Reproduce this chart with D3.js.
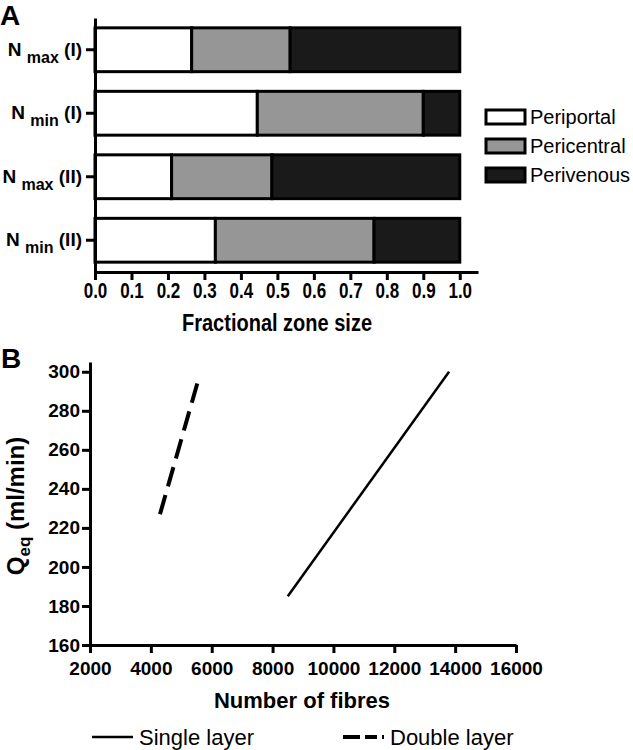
<!DOCTYPE html>
<html>
<head>
<meta charset="utf-8">
<script src="https://cdn.jsdelivr.net/npm/d3@7"></script>
<style>
  body { margin: 0; background: #fff; }
  svg { font-family: "Liberation Sans", Arial, sans-serif; }
  .axis path, .axis line { stroke: #000; stroke-width: 3; }
  .axis text { fill: #000; font-weight: bold; }
</style>
</head>
<body>
<div id="chart"></div>
<script>
// panel A
const categories = ["Nmax (I)", "Nmin (I)", "Nmax (II)", "Nmin (II)"]
const zones = ["Periportal", "Pericentral", "Perivenous"]
const periportal = [0.265, 0.445, 0.21, 0.33]
const pericentral = [0.27, 0.455, 0.275, 0.435]
const perivenous = [0.465, 0.10, 0.515, 0.235]
const zoneTicks = [0.0, 0.1, 0.2, 0.3, 0.4, 0.5, 0.6, 0.7, 0.8, 0.9, 1.0]

// panel B
const fibreTicks = [2000, 4000, 6000, 8000, 10000, 12000, 14000, 16000]
const qTicks = [160, 180, 200, 220, 240, 260, 280, 300]
const singleLayer = [[8500, 185], [13800, 300]]
const doubleLayer = [[4300, 227], [5580, 297]]

const zoneColors = ["#ffffff", "#969696", "#1a1a1a"]

const svg = d3.select("#chart").append("svg")
    .attr("width", 633)
    .attr("height", 750)

// ---------- A ----------
const table = categories.map((c, i) => ({
    cat: c,
    Periportal: periportal[i],
    Pericentral: pericentral[i],
    Perivenous: perivenous[i]
}))
const stacked = d3.stack().keys(zones)(table)

const xA = d3.scaleLinear().domain([0, 1.05]).range([95, 478])
const yA = d3.scaleBand().domain(categories).range([18, 272])
    .paddingInner(0.31).paddingOuter(0.155)

svg.append("text")
    .attr("x", 0).attr("y", 25)
    .style("font-size", "28px").style("font-weight", "bold")
    .text("A")

svg.selectAll(".zone")
    .data(stacked)
    .join("g")
    .attr("class", "zone")
    .attr("fill", (d, i) => zoneColors[i])
    .selectAll("rect")
    .data(d => d)
    .join("rect")
    .attr("x", d => xA(d[0]))
    .attr("y", d => yA(d.data.cat))
    .attr("width", d => xA(d[1]) - xA(d[0]))
    .attr("height", yA.bandwidth())
    .attr("stroke", "#000")
    .attr("stroke-width", 3)

// tick labels in A are drawn tall and narrow
svg.append("g")
    .attr("class", "axis")
    .attr("transform", "translate(0,272)")
    .call(d3.axisBottom(xA).tickValues(zoneTicks).tickFormat(d3.format(".1f"))
        .tickSize(8).tickSizeOuter(0))
    .selectAll("text")
    .style("font-size", "17px")
    .attr("y", 0).attr("dy", 0)
    .attr("transform", "translate(0,298) scale(1,1.25)".replace("298", 26))

const yAxisA = svg.append("g")
    .attr("class", "axis")
    .attr("transform", "translate(95,0)")
    .call(d3.axisLeft(yA).tickSize(9).tickSizeOuter(0).tickFormat(""))

yAxisA.selectAll(".tick text").remove()
yAxisA.selectAll(".tick").append("text")
    .attr("x", -13)
    .attr("y", 6)
    .attr("text-anchor", "end")
    .style("font-size", "19px")
    .each(function (d) {
        const t = d3.select(this)
        const sp = d.indexOf(" ")
        t.append("tspan").text(d.slice(0, 1) + " ")
        t.append("tspan").attr("dy", 7).style("font-size", "16px").text(d.slice(1, sp))
        t.append("tspan").attr("dy", -7).text(" " + d.slice(sp + 1))
    })

svg.append("text")
    .attr("transform", "translate(277,331) scale(1,1.15)")
    .attr("text-anchor", "middle")
    .style("font-size", "20px").style("font-weight", "bold")
    .text("Fractional zone size")

const legA = svg.append("g").selectAll("g")
    .data(zones)
    .join("g")
    .attr("transform", (d, i) => `translate(486,${110 + i * 29})`)
legA.append("rect")
    .attr("width", 39).attr("height", 14)
    .attr("fill", (d, i) => zoneColors[i])
    .attr("stroke", "#000").attr("stroke-width", 3)
legA.append("text")
    .attr("x", 44).attr("y", 14)
    .style("font-size", "20px")
    .text(d => d)

// ---------- B ----------
const xB = d3.scaleLinear().domain([2000, 16000]).range([90, 516])
const yB = d3.scaleLinear().domain([160, 305]).range([645, 362])

svg.append("text")
    .attr("x", 1).attr("y", 368)
    .style("font-size", "28px").style("font-weight", "bold")
    .text("B")

svg.append("g")
    .attr("class", "axis")
    .attr("transform", "translate(0,645)")
    .call(d3.axisBottom(xB).tickValues(fibreTicks).tickFormat(d3.format("d"))
        .tickSize(8).tickSizeOuter(0).tickPadding(9))
    .selectAll("text").style("font-size", "19px")

svg.append("g")
    .attr("class", "axis")
    .attr("transform", "translate(90,0)")
    .call(d3.axisLeft(yB).tickValues(qTicks).tickSize(8).tickSizeOuter(0).tickPadding(2))
    .selectAll("text").style("font-size", "19px")

const line = d3.line().x(d => xB(d[0])).y(d => yB(d[1]))

svg.append("path")
    .datum(singleLayer)
    .attr("d", line)
    .attr("fill", "none")
    .attr("stroke", "#000")
    .attr("stroke-width", 2.5)

svg.append("path")
    .datum(doubleLayer)
    .attr("d", line)
    .attr("fill", "none")
    .attr("stroke", "#000")
    .attr("stroke-width", 4)
    .attr("stroke-dasharray", "20,9")

svg.append("text")
    .attr("x", 302).attr("y", 708)
    .attr("text-anchor", "middle")
    .style("font-size", "22px").style("font-weight", "bold")
    .text("Number of fibres")

const qTitle = svg.append("text")
    .attr("transform", "translate(24,506) rotate(-90)")
    .attr("text-anchor", "middle")
    .style("font-size", "24px").style("font-weight", "bold")
qTitle.append("tspan").text("Q")
qTitle.append("tspan").attr("dy", 6).style("font-size", "17px").text("eq")
qTitle.append("tspan").attr("dy", -6).text(" (ml/min)")

// legend B
svg.append("line")
    .attr("x1", 92).attr("x2", 133).attr("y1", 737).attr("y2", 737)
    .attr("stroke", "#000").attr("stroke-width", 2.5)
svg.append("text")
    .attr("x", 139).attr("y", 745)
    .style("font-size", "22px")
    .text("Single layer")
svg.append("line")
    .attr("x1", 343).attr("x2", 384).attr("y1", 737).attr("y2", 737)
    .attr("stroke", "#000").attr("stroke-width", 4)
    .attr("stroke-dasharray", "17,5,12,5")
svg.append("text")
    .attr("x", 390).attr("y", 745)
    .style("font-size", "22px")
    .text("Double layer")
</script>
</body>
</html>
